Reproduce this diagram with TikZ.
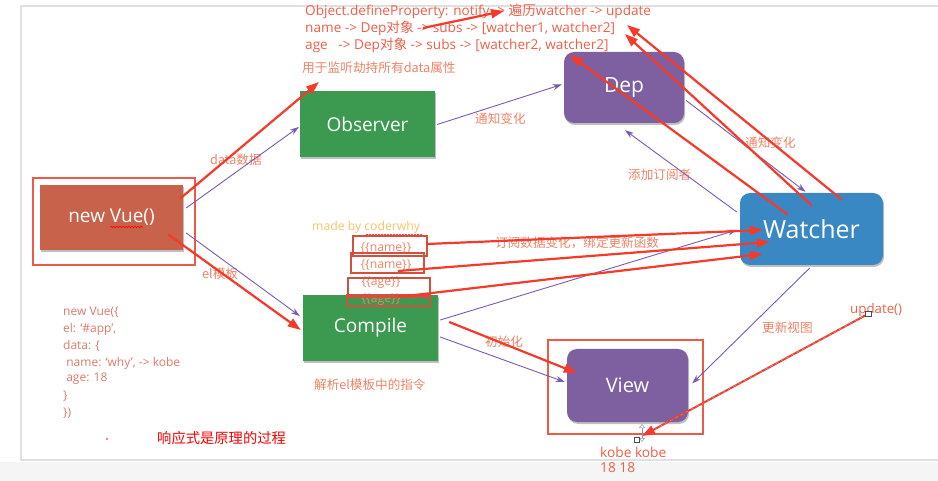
\documentclass[tikz,border=0pt]{standalone}
\usepackage{fontspec}
\setmainfont{Open Sans}
\newfontfamily\cjk{Noto Sans CJK SC}
\usetikzlibrary{arrows.meta,calc,decorations.pathmorphing,shadows}
\definecolor{frameline}{HTML}{E0E0E0}
\definecolor{bandgray}{HTML}{F5F5F5}
\definecolor{vuefill}{HTML}{C9624A}
\definecolor{greenfill}{HTML}{3C9A50}
\definecolor{purpfill}{HTML}{7E5F9F}
\definecolor{bluefill}{HTML}{3A88C3}
\definecolor{purpline}{HTML}{7B5AAE}
\definecolor{redarrow}{HTML}{F5392A}
\definecolor{lblc}{HTML}{EE8466}
\definecolor{toptext}{HTML}{EF5F48}
\definecolor{codec}{HTML}{DE7A6C}
\definecolor{boxred}{HTML}{D2503E}
\definecolor{outred}{HTML}{EE5A48}
\definecolor{madec}{HTML}{F6C56A}
\tikzset{
  shbox/.style={inner sep=0pt, text=white, drop shadow={shadow xshift=1pt,shadow yshift=-2pt,opacity=0.25,fill=black}},
  vuebox/.style={shbox, fill=vuefill, minimum width=143pt, minimum height=65pt, font=\fontsize{19}{22}\selectfont},
  greenbox/.style={shbox, fill=greenfill, minimum width=135pt, minimum height=66pt, font=\fontsize{19}{22}\selectfont},
  purpbox/.style={shbox, fill=purpfill, rounded corners=10pt, font=\fontsize{20}{23}\selectfont},
  bluebox/.style={shbox, fill=bluefill, rounded corners=10pt, minimum width=143pt, minimum height=72pt, font=\fontsize{25}{29}\selectfont},
  outbox/.style={draw=outred, line width=1.3pt, inner sep=0pt},
  tagbox/.style={draw=boxred, line width=1.2pt, inner sep=0pt},
  pline/.style={draw=purpline, line width=0.9pt, -{Stealth[length=9pt,width=6pt]}},
  rline/.style={draw=redarrow, line width=2.2pt, -{Triangle[length=13pt,width=9pt]}},
  lbl/.style={text=lblc, font=\cjk\fontsize{12.6}{14}\selectfont, anchor=west, inner sep=0pt},
  toptxt/.style={text=toptext, font=\fontsize{13.6}{15}\selectfont, anchor=west, inner sep=0pt},
  codetxt/.style={text=codec, font=\fontsize{12}{14}\selectfont, anchor=west, inner sep=0pt},
  tagtxt/.style={text=lblc, font=\fontsize{12.2}{14}\selectfont, inner sep=0pt},
}
\begin{document}
\begin{tikzpicture}[x=1pt,y=-1pt]
\useasboundingbox (0,0) rectangle (938,481);
% background and frame
\fill[white] (0,0) rectangle (938,481);
\fill[bandgray] (0,462) rectangle (938,481);
\draw[frameline, line width=1.2pt] (945,6) -- (21,6) -- (21,460) -- (945,460);

% main boxes
\node[vuebox] (nv) at (111.5,217.5) {new Vue()};
\node[outbox, minimum width=162pt, minimum height=87pt] (nvout) at (114,221.5) {};
\node[greenbox] (obs) at (367.5,124.5) {Observer};
\node[purpbox, minimum width=120pt, minimum height=71pt, font=\fontsize{21}{24}\selectfont] (dep) at (624,87.5) {Dep};
\node[bluebox] (wat) at (811.5,229) {Watcher};
\node[greenbox] (cmp) at (370.5,328) {Compile};
\node[purpbox, minimum width=121pt, minimum height=73pt] (view) at (627.5,385.5) {View};
\node[outbox, minimum width=155pt, minimum height=94pt] (viewout) at (625.5,387) {};

% wavy underline under Vue
\draw[red, line width=0.6pt, decorate, decoration={snake, amplitude=0.7pt, segment length=3pt}] (110,227) -- (143,227);

% top texts
\node[toptxt] (t1) at (305,11) {Object.defineProperty: notify -> {\cjk 遍历}watcher -> update};
\node[toptxt] (t2) at (305,28) {name -> Dep{\cjk 对象} -> subs -> [watcher1, watcher2]};
\node[toptxt] (t3) at (305,45) {age\ \ \ -> Dep{\cjk 对象} -> subs -> [watcher2, watcher2]};
\node[lbl, font=\cjk\fontsize{12.7}{14}\selectfont] (hij) at (302,68) {用于监听劫持所有data属性};

% labels
\node[lbl] (l1) at (210,160) {data数据};
\node[lbl] (l2) at (202,274) {el模板};
\node[lbl] (l3) at (475,119) {通知变化};
\node[lbl] (l4) at (745,143) {通知变化};
\node[lbl] (l5) at (628,175) {添加订阅者};
\node[lbl] (l6) at (495,243) {订阅数据变化，绑定更新函数};
\node[lbl] (l7) at (485,342) {初始化};
\node[lbl] (l8) at (314,385) {解析el模板中的指令};
\node[lbl] (l9) at (762,328) {更新视图};
\node[lbl, text=toptext, font=\fontsize{13.3}{15}\selectfont] (upd) at (850,310) {update()};
\node[lbl, text=toptext, font=\fontsize{13.7}{15}\selectfont] (kb) at (600,452) {kobe kobe};
\node[lbl, text=toptext, font=\fontsize{13.7}{15}\selectfont] (ee) at (600,468) {18 18};

% made by
\node[lbl, text=madec, font=\fontsize{12.2}{14}\selectfont] (made) at (312,227) {made by coderwhy};
\draw[red, line width=0.6pt, decorate, decoration={snake, amplitude=0.7pt, segment length=3pt}] (366,235) -- (422,235);

% template tags
\node[tagtxt] (n1) at (386,248) {\{\{name\}\}};
\node[tagtxt] (n2) at (386,265) {\{\{name\}\}};
\node[tagtxt] (a1) at (381,283) {\{\{age\}\}};
\node[tagtxt] (a2) at (381,300) {\{\{age\}\}};
\draw[tagbox] (353,236) rectangle (427,256);
\draw[tagbox] (351,253) rectangle (424,273);
\draw[tagbox] (348,278) rectangle (430,297);
\draw[tagbox] (347,295) rectangle (430,306);
\coordinate (n1e) at (427,244);
\coordinate (n2e) at (398,271);
\coordinate (a2e) at (398,297);

% code
\node[codetxt] (c1) at (63,312) {new Vue(\{};
\node[codetxt] (c2) at (63,329) {el: `\#app',};
\node[codetxt] (c3) at (63,346) {data: \{};
\node[codetxt] (c4) at (63,363) {\ name: `why', -> kobe};
\node[codetxt] (c5) at (63,379) {\ age: 18};
\node[codetxt] (c6) at (63,396) {\}};
\node[codetxt] (c7) at (63,413) {\})};
\node[text=red, font=\cjk\fontsize{14.3}{16}\selectfont, anchor=west, inner sep=0pt] (title) at (157,438) {响应式是原理的过程};
\fill[red] (107,439) circle (0.9pt);

% purple connectors
\draw[pline] ([xshift=3pt,yshift=9.5pt]nv.east) -- ([xshift=-1pt,yshift=-2.5pt]obs.west);
\draw[pline] ([xshift=3pt,yshift=-15.5pt]nv.east) -- ([xshift=-3pt,yshift=12pt]cmp.west);
\draw[pline] ([xshift=2pt]obs.east) -- ([xshift=-2pt,yshift=3pt]dep.west);
\draw[pline] ([xshift=2pt,yshift=-13pt]dep.east) -- ([xshift=-6pt,yshift=1pt]wat.north);
\draw[pline] ([xshift=-3pt,yshift=17pt]wat.west) -- ([xshift=1pt,yshift=-7pt]dep.south);
\draw[pline] ([xshift=2pt,yshift=8pt]cmp.east) -- ([xshift=-3pt,yshift=-1pt]wat.west);
\draw[pline] ([xshift=2pt,yshift=-9pt]cmp.east) -- ([xshift=-2pt,yshift=3.5pt]view.west);
\draw[pline] ([xshift=-2pt,yshift=-3pt]wat.south) -- ([xshift=4pt,yshift=2pt]view.east);

% red annotation arrows
\coordinate (hijA) at (319,82);
\coordinate (nfA) at (423,28);
\coordinate (nfB) at (504,11);
\coordinate (u1) at (627,25);
\coordinate (u2) at (625,34);
\draw[rline] ([xshift=-3pt,yshift=19pt]nv.east) -- (hijA);
\draw[rline] ([xshift=-15pt,yshift=-17pt]nv.east) -- ([xshift=-2pt,yshift=-2pt]cmp.west);
\draw[rline] (nfA) -- (nfB);
\draw[rline] ([xshift=30.5pt,yshift=-7pt]wat.north) -- (u1);
\draw[rline] ([xshift=0.5pt,yshift=-13pt]wat.north) -- (u2);
\draw[rline] ([xshift=-23.5pt,yshift=-22pt]wat.north) -- ([xshift=6pt,yshift=-3pt]dep.north west);
\draw[rline] (n1e) -- ([xshift=23pt,yshift=-1pt]wat.west);
\draw[rline] (n2e) -- ([xshift=30pt,yshift=-13pt]wat.west);
\draw[rline] (a2e) -- ([xshift=23pt,yshift=-25pt]wat.west);
\draw[rline] ([xshift=11pt,yshift=6pt]cmp.east) -- ([xshift=10pt,yshift=12.5pt]view.west);
\coordinate (kbA) at (642,436);
\coordinate (updA) at (868,314);
\draw[rline, line width=2pt] (updA) -- (kbA);
\draw[gray!70, line width=0.5pt, dash pattern=on 3pt off 3pt] (updA) -- ($(kbA)!0.06!(updA)$);

% cursor marks
\draw[gray!80, line width=0.5pt, {Triangle[open,length=4pt,width=6pt]}-{Triangle[open,length=4pt,width=6pt]}] (642,424) -- (642,442);
\draw[black!70, line width=0.5pt, fill=white] (634,437) rectangle (639,442);
\draw[black!70, line width=0.5pt, fill=white] (865,311) rectangle (871,316);
\end{tikzpicture}
\end{document}
